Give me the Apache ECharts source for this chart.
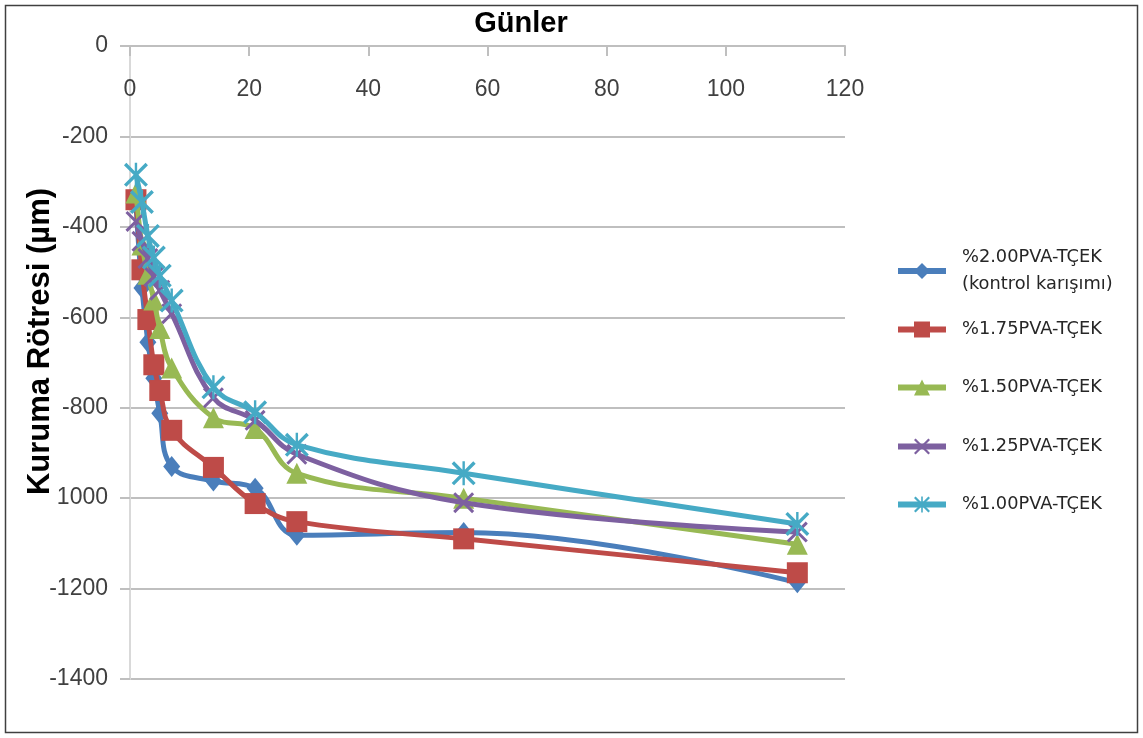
<!DOCTYPE html>
<html><head><meta charset="utf-8">
<script src="https://cdn.jsdelivr.net/npm/echarts@6/dist/echarts.min.js"></script>
<style>html,body{margin:0;padding:0;background:#fff}#c{width:1143px;height:738px}</style>
</head><body><div id="c"></div>
<script>
const days = [1, 2, 3, 4, 5, 7, 14, 21, 28, 56, 112];
const seriesNames = ['%2.00PVA-TÇEK\n(kontrol karışımı)', '%1.75PVA-TÇEK', '%1.50PVA-TÇEK', '%1.25PVA-TÇEK', '%1.00PVA-TÇEK'];
const pva200 = [-350, -535, -655, -735, -812, -930, -962, -978, -1082, -1076, -1187];
const pva175 = [-340, -495, -605, -705, -762, -850, -932, -1012, -1052, -1090, -1165];
const pva150 = [-325, -440, -505, -562, -625, -712, -822, -846, -945, -1000, -1102];
const pva125 = [-388, -432, -470, -510, -540, -592, -778, -828, -903, -1010, -1075];
const pva100 = [-285, -345, -420, -468, -508, -563, -755, -810, -882, -945, -1057];
const xTickValues = [0, 20, 40, 60, 80, 100, 120];
const yTickLabels = {'0': '0', '-200': '-200', '-400': '-400', '-600': '-600', '-800': '-800', '-1000': '1000', '-1200': '-1200', '-1400': '-1400'};
const xTitle = 'Günler';
const yTitle = 'Kuruma Rötresi (µm)';

const colors = ['#4A7EBB', '#BE4B48', '#98B954', '#7D60A0', '#46AAC5'];
const values = [pva200, pva175, pva150, pva125, pva100];
const X_PATH = 'path://M0,1L1,0L10,9L9,10Z M9,0L10,1L1,10L0,9Z';
const AST_PATH = 'path://M0,1L1,0L10,9L9,10Z M9,0L10,1L1,10L0,9Z M4.5,0L5.5,0L5.5,10L4.5,10Z';
const symbols = ['diamond', 'rect', 'triangle', X_PATH, AST_PATH];
const symbolSizes = [[17, 21], 21, 21, 21, 24];

const series = values.map((vals, i) => ({
  name: seriesNames[i],
  type: 'line',
  smooth: 0.4,
  data: days.map((d, j) => [d, vals[j]]),
  symbol: symbols[i],
  symbolSize: symbolSizes[i],
  showAllSymbol: true,
  color: colors[i],
  lineStyle: {width: 5, color: colors[i]},
  itemStyle: {color: colors[i]},
  z: 2 + i
}));

const legendTops = [244, 318, 376, 435, 493];
const legends = seriesNames.map((n, i) => ({
  data: [n],
  left: 895,
  top: legendTops[i],
  padding: 0,
  itemWidth: 48,
  itemHeight: 20,
  selectedMode: false,
  lineStyle: {width: 6},
  textStyle: {fontFamily: 'DejaVu Sans', fontSize: 17.8, color: '#262626', lineHeight: i === 0 ? 27 : 23, padding: [0, 0, 0, 11]}
}));

const chart = echarts.init(document.getElementById('c'), null, {renderer: 'canvas'});
chart.setOption({
  backgroundColor: '#ffffff',
  animation: false,
  color: colors,
  title: {text: xTitle, left: 516, top: 4, textAlign: 'center',
    textStyle: {fontFamily: 'Liberation Sans', fontWeight: 'bold', fontSize: 29, color: '#000'}},
  legend: legends,
  grid: {left: 130, right: 298, top: 46, bottom: 59, containLabel: false},
  xAxis: {
    type: 'value', position: 'top', min: 0, max: 120, interval: 20,
    axisLine: {show: true, onZero: false, lineStyle: {color: '#BFBFBF', width: 2}},
    axisTick: {show: true, inside: true, length: 10, lineStyle: {color: '#BFBFBF', width: 2}},
    axisLabel: {inside: true, margin: 32, fontFamily: 'Liberation Sans', fontSize: 23, color: '#404040',
      formatter: v => xTickValues.includes(v) ? String(v) : ''},
    splitLine: {show: false}
  },
  yAxis: {
    type: 'value', min: -1400, max: 0, interval: 200,
    name: yTitle, nameLocation: 'middle', nameGap: 74, nameRotate: 90, nameMoveOverlap: false,
    nameTextStyle: {fontFamily: 'Liberation Sans', fontWeight: 'bold', fontSize: 31, color: '#000', padding: [0, 0, 0, 42]},
    axisLine: {show: true, lineStyle: {color: '#D9D9D9', width: 2}},
    axisTick: {show: true, length: 10, lineStyle: {color: '#BFBFBF', width: 2}},
    axisLabel: {margin: 22, fontFamily: 'Liberation Sans', fontSize: 23, color: '#404040',
      formatter: v => yTickLabels[String(v)] !== undefined ? yTickLabels[String(v)] : String(v)},
    splitLine: {show: true, lineStyle: {color: '#BFBFBF', width: 2}}
  },
  graphic: [{type: 'rect', shape: {x: 5.5, y: 5.5, width: 1132, height: 727},
    style: {fill: 'none', stroke: '#404040', lineWidth: 1.5}, silent: true, z: 100}],
  series: series
});
</script></body></html>
